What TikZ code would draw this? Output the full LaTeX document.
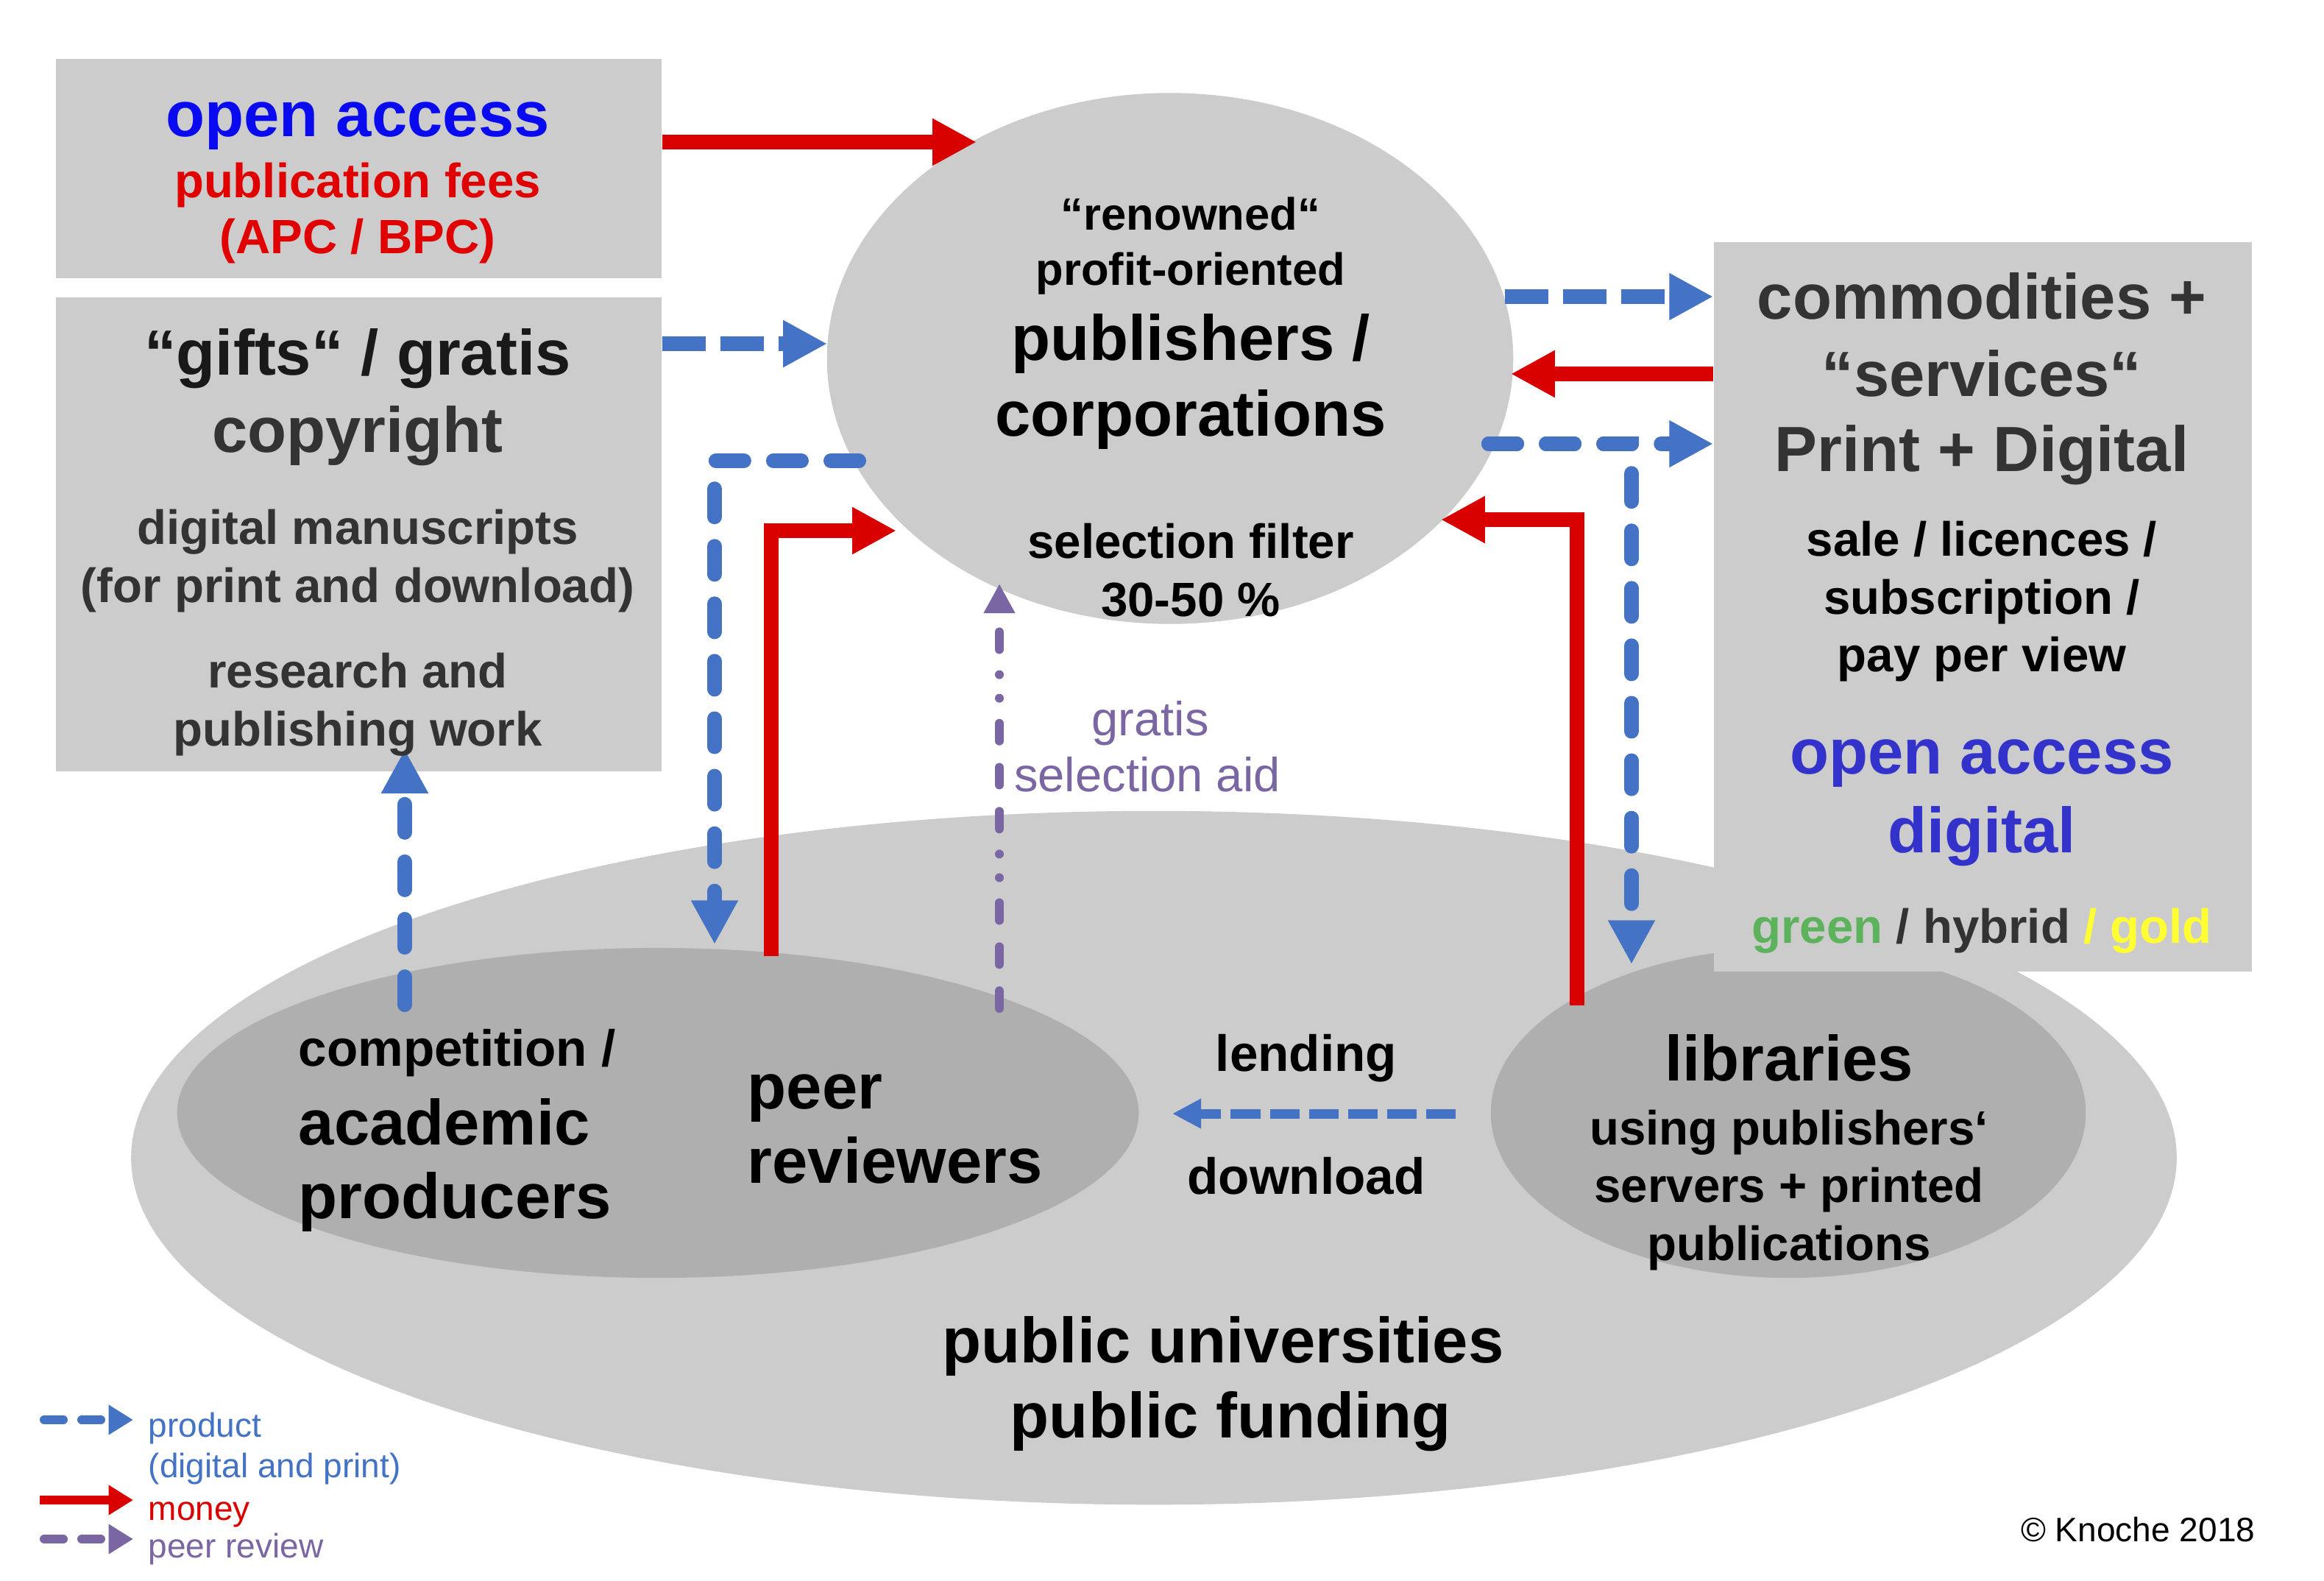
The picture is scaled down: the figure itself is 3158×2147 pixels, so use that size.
\documentclass[tikz,border=0pt]{standalone}
\usepackage{fontspec}
\setmainfont{Liberation Sans}
\usetikzlibrary{arrows.meta,shapes.geometric}
\definecolor{boxgray}{HTML}{CCCCCC}
\definecolor{ingray}{HTML}{AFAFAF}
\definecolor{pblue}{HTML}{4472C4}
\definecolor{pred}{HTML}{D90000}
\definecolor{ppurple}{HTML}{7A66A2}
\definecolor{oablue}{HTML}{0A0AF0}
\definecolor{feered}{HTML}{E00000}
\definecolor{txtgray}{HTML}{333333}
\definecolor{oadig}{HTML}{3333CC}
\definecolor{oagreen}{HTML}{5CB35C}
\definecolor{oagold}{HTML}{FFFF33}
\begin{document}
\begin{tikzpicture}[x=0.01cm,y=-0.01cm,
  txt/.style={inner sep=0pt, anchor=base},
  tBig/.style={font=\fontsize{24.7pt}{29pt}\selectfont\bfseries},
  tRB/.style={font=\fontsize{24.7pt}{29pt}\selectfont\bfseries},
  tMid/.style={font=\fontsize{18.6pt}{22pt}\selectfont\bfseries},
  tPub/.style={font=\fontsize{17.5pt}{21pt}\selectfont\bfseries},
  tLend/.style={font=\fontsize{19.7pt}{23pt}\selectfont\bfseries},
  tReg/.style={font=\fontsize{18.5pt}{22pt}\selectfont},
  tSmall/.style={font=\fontsize{13.1pt}{16pt}\selectfont},
  grayfill/.style={fill=boxgray, draw=none, inner sep=0pt},
  money/.style={draw=pred, line width=5.69pt, -{Triangle[length=17pt,width=17pt]}},
  prod/.style={draw=pblue, line width=5.69pt, dash pattern=on 16.8pt off 5.7pt, -{Triangle[length=17pt,width=17pt]}},
  prodr/.style={prod, line cap=round, dash pattern=on 10.8pt off 11.4pt},
  prodthin/.style={draw=pblue, line width=3.7pt, dash pattern=on 11.4pt off 3.7pt, -{Triangle[length=11.1pt,width=10.8pt]}},
  peerrev/.style={draw=ppurple, line width=3.4pt, line cap=round,
    dash pattern=on 6.8pt off 10.2pt on 6.8pt off 10.2pt on 6.8pt off 9.7pt on 0.01pt off 9.1pt on 0.01pt off 9.7pt,
    -{Triangle[length=11.4pt,width=11.4pt]}},
  legprod/.style={draw=pblue, line width=3.4pt, line cap=round, dash pattern=on 7.4pt off 7.1pt, -{Triangle[length=9.5pt,width=11pt]}},
  legmoney/.style={draw=pred, line width=3.4pt, -{Triangle[length=9.5pt,width=11pt]}},
  legpeer/.style={draw=ppurple, line width=3.4pt, line cap=round, dash pattern=on 7.4pt off 7.1pt, -{Triangle[length=9.5pt,width=11pt]}}
]
\useasboundingbox (0,0) rectangle (3158,2147);
\fill[white] (0,0) rectangle (3158,2147);

% ---- shapes ----
\node[grayfill, ellipse, minimum width=27.78cm, minimum height=9.42cm] (univ) at (1568,1573) {};
\node[fill=ingray, draw=none, inner sep=0pt, ellipse, minimum width=13.06cm, minimum height=4.48cm] (prodell) at (894,1512) {};
\node[fill=ingray, draw=none, inner sep=0pt, ellipse, minimum width=8.08cm, minimum height=4.48cm] (libell) at (2430,1512) {};
\node[grayfill, ellipse, minimum width=9.32cm, minimum height=7.21cm] (pubell) at (1590,487) {};
\node[grayfill, anchor=north west, minimum width=8.23cm, minimum height=2.98cm] (oabox) at (75,79) {};
\node[grayfill, anchor=north west, minimum width=8.23cm, minimum height=6.44cm] (giftbox) at (75,403) {};
\node[grayfill, anchor=north west, minimum width=7.31cm, minimum height=9.91cm] (rbox) at (2328,328) {};

% ---- connector end points ----
\coordinate (a1e) at (1327,193);
\coordinate (a2e) at (1124,467);
\coordinate (a3s) at (2045,403);
\coordinate (a4s) at (2328,508);
\coordinate (a4e) at (2053,508);
\coordinate (a5s) at (2023,603);
\coordinate (a5d) at (2217,1310);
\coordinate (a6s) at (2143,1366);
\coordinate (a6e) at (1958,706);
\coordinate (a7s) at (1167,626);
\coordinate (a7e) at (971,1283);
\coordinate (a8s) at (1048,1299);
\coordinate (a8e) at (1218,721);
\coordinate (a9s) at (1358,1370);
\coordinate (a9e) at (1358,793);
\coordinate (a10s) at (550,1365);
\coordinate (a10e) at (550,1018);
\coordinate (a11s) at (1978,1513);
\coordinate (a11e) at (1593,1513);

% ---- connectors ----
\draw[money] (oabox.east |- a1e) -- (a1e);
\draw[prod] (giftbox.east |- a2e) -- (a2e);
\draw[prod] (a3s) -- (a3s -| rbox.west);
\draw[money] (a4s) -- (a4e);
\draw[prodr] (a5s) -- (a5s -| rbox.west);
\draw[prodr] (a5s) -| (a5d);
\draw[money] (a6s) |- (a6e);
\draw[prodr] (a7s) -| (a7e);
\draw[money] (a8s) |- (a8e);
\draw[peerrev] (a9s) -- (a9e);
\draw[prodr] (a10s) -- (a10e);
\draw[prodthin] (a11s) -- (a11e);

% ---- texts: open access box ----
\node[txt, tBig, text=oablue] (t1) at (486,185) {open access};
\node[txt, tMid, text=feered] (t2) at (486,268) {publication fees};
\node[txt, tMid, text=feered] (t3) at (486,344) {(APC / BPC)};
% ---- gifts box ----
\node[txt, tBig, text=black!90] (g1) at (486,509) {“gifts“ / gratis};
\node[txt, tBig, text=txtgray] (g2) at (486,614) {copyright};
\node[txt, tMid, text=txtgray] (g3) at (486,739) {digital manuscripts};
\node[txt, tMid, text=txtgray] (g4) at (486,818) {(for print and download)};
\node[txt, tMid, text=txtgray] (g5) at (486,934) {research and};
\node[txt, tMid, text=txtgray] (g6) at (486,1013) {publishing work};
% ---- publishers ----
\node[txt, tPub] (p1) at (1618,312) {“renowned“};
\node[txt, tPub] (p2) at (1618,387) {profit-oriented};
\node[txt, tBig] (p3) at (1618,489) {publishers /};
\node[txt, tBig] (p4) at (1618,592) {corporations};
\node[txt, tMid] (p5) at (1618,758) {selection filter};
\node[txt, tMid] (p6) at (1618,837) {30-50 \%};
% ---- right box ----
\node[txt, tRB, text=txtgray] (r1) at (2693,433) {commodities +};
\node[txt, tRB, text=txtgray] (r2) at (2693,538) {“services“};
\node[txt, tRB, text=txtgray] (r3) at (2693,640) {Print + Digital};
\node[txt, tMid] (r4) at (2693,755) {sale / licences /};
\node[txt, tMid] (r5) at (2693,834) {subscription /};
\node[txt, tMid] (r6) at (2693,912) {pay per view};
\node[txt, tBig, text=oadig] (r7) at (2693,1051) {open access};
\node[txt, tBig, text=oadig] (r8) at (2693,1158) {digital};
\node[txt, tMid] (r9) at (2693,1281) {{\color{oagreen}green} {\color{txtgray}/ hybrid} {\color{oagold}/ gold}};
% ---- bottom ----
\node[txt, tLend, anchor=base west] (c1) at (405,1448) {competition /};
\node[txt, tBig, anchor=base west] (c2) at (405,1555) {academic};
\node[txt, tBig, anchor=base west] (c3) at (405,1655) {producers};
\node[txt, tBig, anchor=base west] (pr1) at (1015,1506) {peer};
\node[txt, tBig, anchor=base west] (pr2) at (1015,1607) {reviewers};
\node[txt, tLend] (l1) at (1775,1455) {lending};
\node[txt, tLend] (l2) at (1775,1622) {download};
\node[txt, tBig] (lb1) at (2431,1468) {libraries};
\node[txt, tMid] (lb2) at (2431,1555) {using publishers‘};
\node[txt, tMid] (lb3) at (2431,1633) {servers + printed};
\node[txt, tMid] (lb4) at (2431,1712) {publications};
\node[txt, tBig] (u1) at (1662,1851) {public universities};
\node[txt, tBig] (u2) at (1672,1953) {public funding};
\node[txt, tReg, text=ppurple] (s1) at (1563,999) {gratis};
\node[txt, tReg, text=ppurple] (s2) at (1559,1075) {selection aid};

% ---- legend ----
\coordinate (lg1s) at (60,1929);
\coordinate (lg1e) at (181,1929);
\coordinate (lg2s) at (54,2038);
\coordinate (lg2e) at (181,2038);
\coordinate (lg3s) at (60,2091);
\coordinate (lg3e) at (181,2091);
\draw[legprod] (lg1s) -- (lg1e);
\draw[legmoney] (lg2s) -- (lg2e);
\draw[legpeer] (lg3s) -- (lg3e);
\node[txt, tSmall, anchor=base west, text=pblue] (lt1) at (201,1952) {product};
\node[txt, tSmall, anchor=base west, text=pblue] (lt2) at (201,2007) {(digital and print)};
\node[txt, tSmall, anchor=base west, text=pred] (lt3) at (201,2065) {money};
\node[txt, tSmall, anchor=base west, text=ppurple] (lt4) at (201,2116) {peer review};
\node[txt, tSmall, anchor=base east] (cr) at (3065,2094) {© Knoche 2018};
\end{tikzpicture}
\end{document}
